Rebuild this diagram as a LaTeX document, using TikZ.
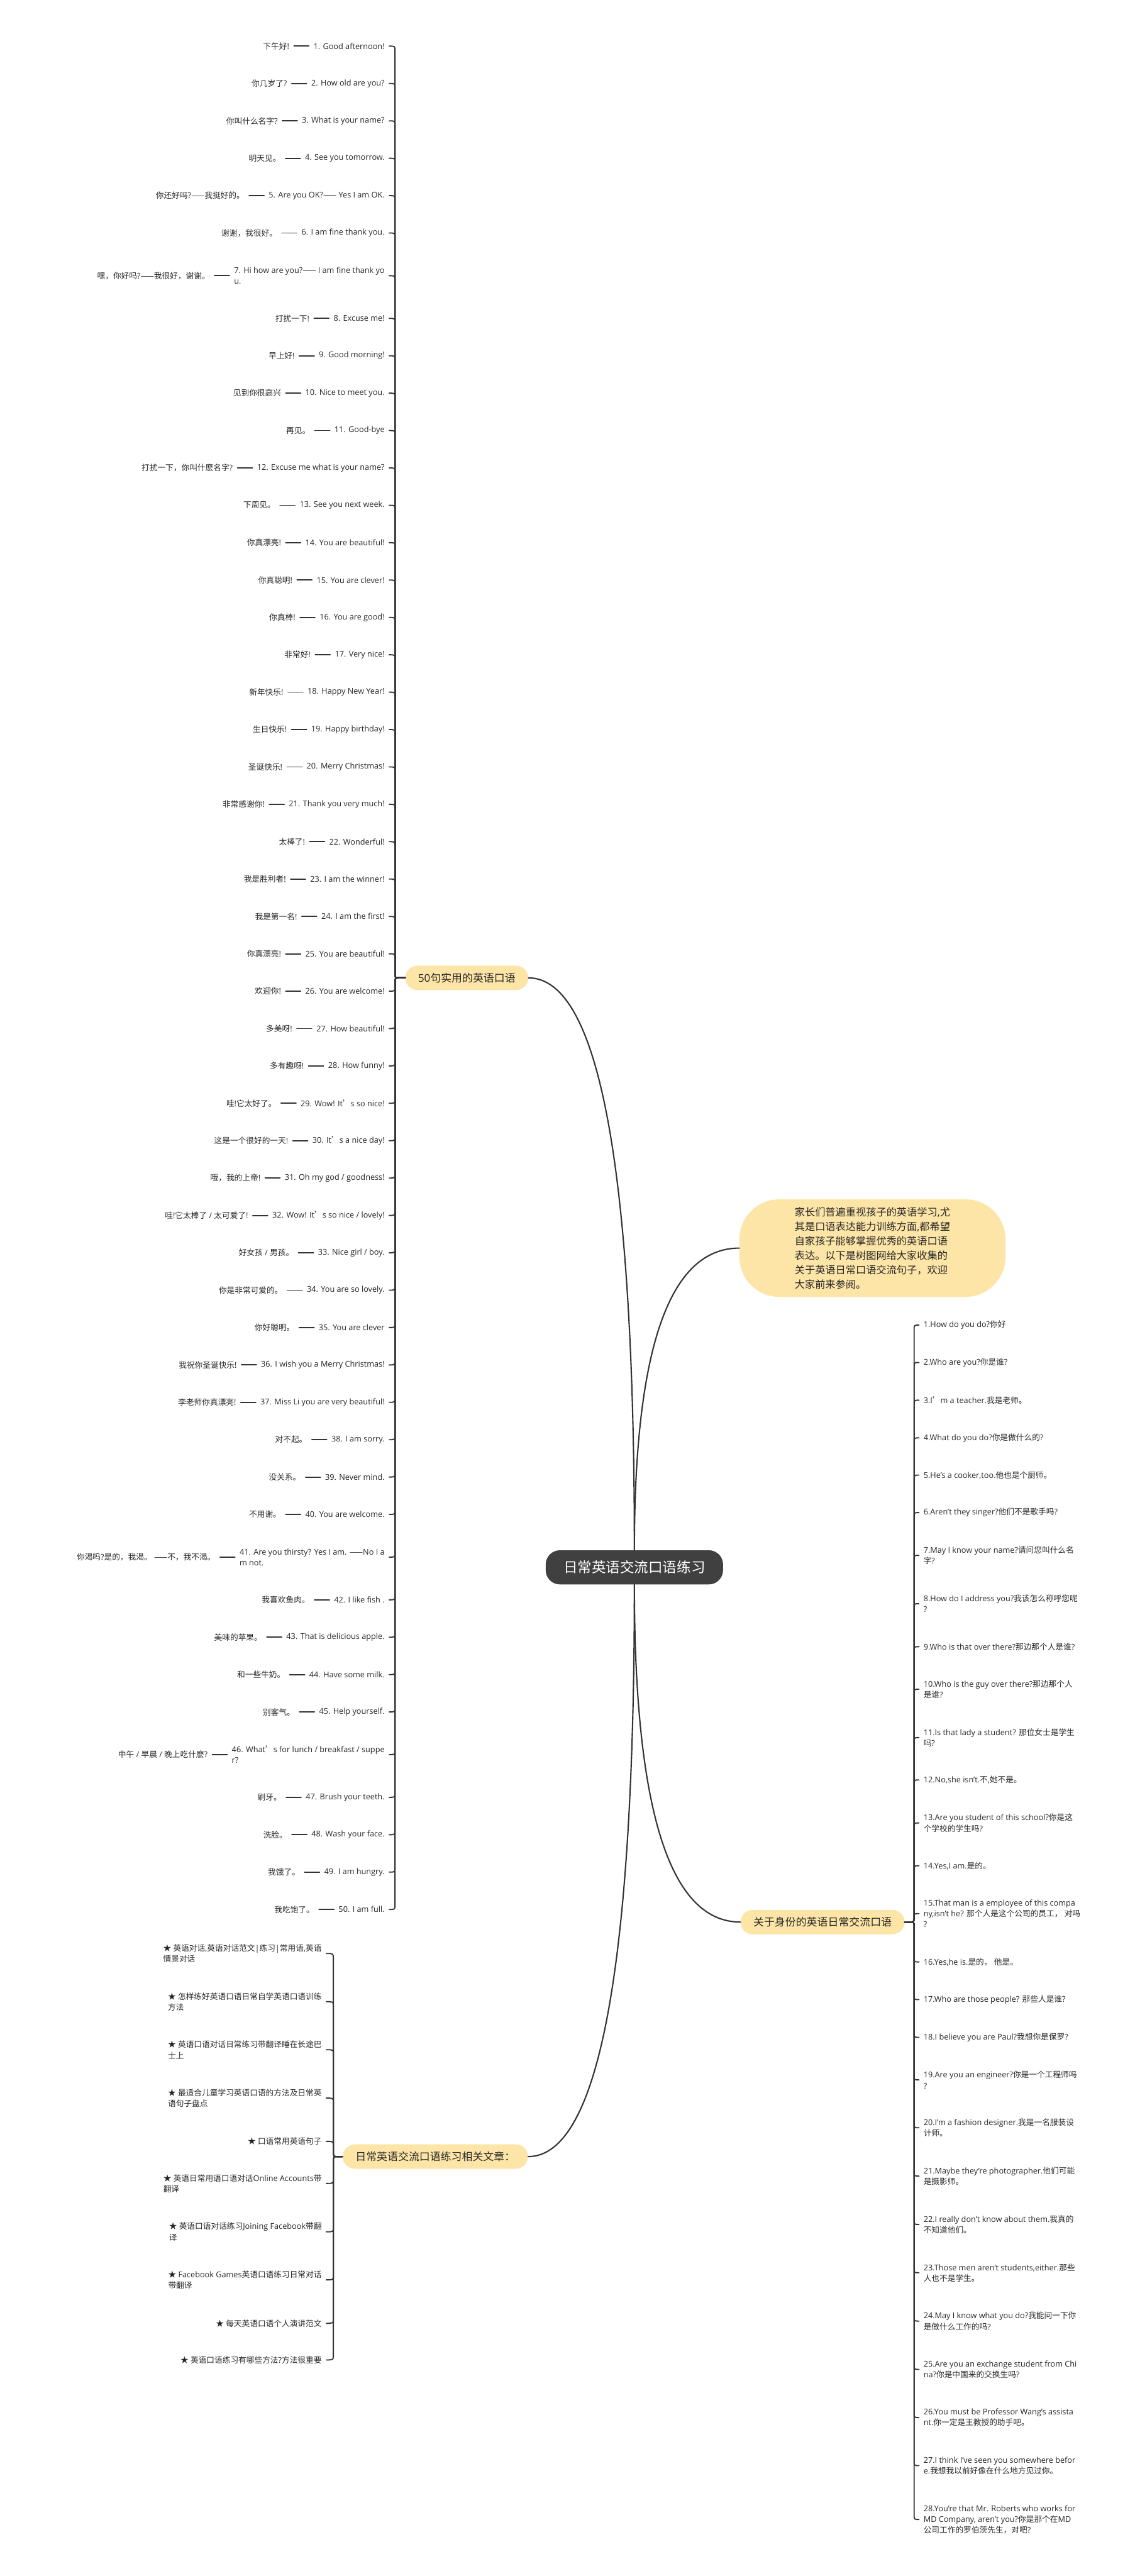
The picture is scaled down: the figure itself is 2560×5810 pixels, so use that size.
\documentclass[tikz,border=0pt]{standalone}
\usepackage{fontspec}
\setmainfont{Open Sans}
\newfontfamily\latfont{Open Sans}
\newfontfamily\cjkfont{Noto Sans CJK SC}
\usetikzlibrary{calc,positioning}

\XeTeXinterchartokenstate=1
\chardef\CJKcls=10
\newcount\mycnt
\def\setcjkrange#1#2{\mycnt=#1\relax
  \loop\XeTeXcharclass\mycnt=\CJKcls\relax
  \ifnum\mycnt<#2\relax\advance\mycnt by 1\relax\repeat}
\setcjkrange{"2E80}{"9FFF}
\setcjkrange{"F900}{"FAFF}
\setcjkrange{"FE30}{"FE4F}
\setcjkrange{"FF00}{"FFEF}
\XeTeXcharclass"2014=\CJKcls
\XeTeXcharclass"2019=\CJKcls
\XeTeXcharclass"2605=\CJKcls
\XeTeXinterchartoks 0 10 = {\cjkfont}
\XeTeXinterchartoks 1 10 = {\cjkfont}
\XeTeXinterchartoks 2 10 = {\cjkfont}
\XeTeXinterchartoks 3 10 = {\cjkfont}
\XeTeXinterchartoks 4095 10 = {\cjkfont}
\XeTeXinterchartoks 10 0 = {\latfont}
\XeTeXinterchartoks 10 1 = {\latfont}
\XeTeXinterchartoks 10 2 = {\latfont}
\XeTeXinterchartoks 10 3 = {\latfont}
\XeTeXinterchartoks 10 4095 = {\latfont}

\definecolor{linec}{HTML}{333333}
\definecolor{textc}{HTML}{262626}
\definecolor{rootc}{HTML}{404040}
\definecolor{pillc}{HTML}{FDE5A7}

\tikzset{
  conn/.style={draw=linec, line width=1.3pt, line cap=round},
  rootnode/.style={fill=rootc, text=white, rounded corners=16pt, inner xsep=20pt,
    minimum height=38.5pt, font=\fontsize{16}{20}\selectfont},
  pill/.style={fill=pillc, text=textc, rounded corners=13.75pt, inner xsep=14.5pt,
    minimum height=27.5pt, font=\fontsize{12}{15}\selectfont},
  introbox/.style={fill=pillc, text=textc, rounded corners=45pt, minimum width=300pt,
    minimum height=110pt, align=left, font=\fontsize{11.5}{16.25}\selectfont},
  itemtext/.style={text=textc, inner xsep=5pt, inner ysep=2pt, align=left,
    font=\fontsize{9}{12.25}\selectfont},
}

\newcommand\treeconn[3]{%
  \draw[conn] let \p1=(#1), \p2=(#2),
    \n1={(\y2>\y1)?1:-1},
    \n2={min(5.5,abs(\y2-\y1)/2.01)},
    \n3={(\x1>\x2)?1:-1} in
  (\p1) -- ({\x2+(#3)+\n3*\n2*1pt},\y1)
  .. controls ({\x2+(#3)},\y1) .. ({\x2+(#3)},{\y1+\n1*\n2*1pt})
  -- ({\x2+(#3)},{\y2-\n1*\n2*1pt})
  .. controls ({\x2+(#3)},\y2) .. (\p2);}

\newcommand\rootconn[2]{%
  \draw[conn, line width=1.5pt] let \p1=(#1), \p2=(#2) in
  (\p1) .. controls (\x1,{\y1+0.667*(\y2-\y1)}) and ({\x2+0.667*(\x1-\x2)},\y2) .. (\p2);}

% left item: index, y, english, chinese
\newcommand\litem[4]{%
  \node[itemtext, anchor=east] (e#1) at (878,#2) {#3};
  \node[itemtext, left=17pt of e#1] (c#1) {#4};
  \draw[conn] (e#1.west) -- (c#1.east);
  \treeconn{b1.west}{e#1.east}{6.5pt}}
% right item
\newcommand\ritem[3]{%
  \node[itemtext, anchor=west] (r#1) at (2073,#2) {#3};
  \treeconn{b3.east}{r#1.west}{-5.5pt}}
% article item
\newcommand\aitem[3]{%
  \node[itemtext, anchor=east] (a#1) at (736,#2) {#3};
  \treeconn{b4.west}{a#1.east}{8pt}}

\begin{document}
\begin{tikzpicture}[x=0.5pt,y=-0.5pt]
\useasboundingbox[fill=white] (0,0) rectangle (2560,5810);

\node[rootnode] (root) at (1431,3535) {日常英语交流口语练习};
\node[pill] (b1) at (1053,2205.5) {50句实用的英语口语};
\node[introbox] (intro) at (1968,2815) {家长们普遍重视孩子的英语学习,尤\\其是口语表达能力训练方面,都希望\\自家孩子能够掌握优秀的英语口语\\表达。以下是树图网给大家收集的\\关于英语日常口语交流句子，欢迎\\大家前来参阅。};
\node[pill] (b3) at (1855.5,4335) {关于身份的英语日常交流口语};
\node[pill] (b4) at (982,4864) {日常英语交流口语练习相关文章：};

\rootconn{root.north}{b1.east}
\rootconn{root.north}{intro.west}
\rootconn{root.south}{b3.west}
\rootconn{root.south}{b4.east}

\litem{1}{104}{1. Good afternoon!}{下午好!}
\litem{2}{188.3}{2. How old are you?}{你几岁了?}
\litem{3}{272.6}{3. What is your name?}{你叫什么名字?}
\litem{4}{356.9}{4. See you tomorrow.}{明天见。}
\litem{5}{441.2}{5. Are you OK?—— Yes I am OK.}{你还好吗?——我挺好的。}
\litem{6}{525.5}{6. I am fine thank you.}{谢谢，我很好。}
\litem{7}{621.8}{7. Hi how are you?—— I am fine thank yo\\u.}{嘿，你好吗?——我很好，谢谢。}
\litem{8}{718.1}{8. Excuse me!}{打扰一下!}
\litem{9}{802.4}{9. Good morning!}{早上好!}
\litem{10}{886.7}{10. Nice to meet you.}{见到你很高兴}
\litem{11}{971}{11. Good-bye}{再见。}
\litem{12}{1055.3}{12. Excuse me what is your name?}{打扰一下，你叫什麽名字?}
\litem{13}{1139.6}{13. See you next week.}{下周见。}
\litem{14}{1223.9}{14. You are beautiful!}{你真漂亮!}
\litem{15}{1308.2}{15. You are clever!}{你真聪明!}
\litem{16}{1392.5}{16. You are good!}{你真棒!}
\litem{17}{1476.8}{17. Very nice!}{非常好!}
\litem{18}{1561.1}{18. Happy New Year!}{新年快乐!}
\litem{19}{1645.4}{19. Happy birthday!}{生日快乐!}
\litem{20}{1729.7}{20. Merry Christmas!}{圣诞快乐!}
\litem{21}{1814}{21. Thank you very much!}{非常感谢你!}
\litem{22}{1898.3}{22. Wonderful!}{太棒了!}
\litem{23}{1982.6}{23. I am the winner!}{我是胜利者!}
\litem{24}{2066.9}{24. I am the first!}{我是第一名!}
\litem{25}{2151.2}{25. You are beautiful!}{你真漂亮!}
\litem{26}{2235.5}{26. You are welcome!}{欢迎你!}
\litem{27}{2319.8}{27. How beautiful!}{多美呀!}
\litem{28}{2404.1}{28. How funny!}{多有趣呀!}
\litem{29}{2488.4}{29. Wow! It’s so nice!}{哇!它太好了。}
\litem{30}{2572.7}{30. It’s a nice day!}{这是一个很好的一天!}
\litem{31}{2657}{31. Oh my god / goodness!}{哦，我的上帝!}
\litem{32}{2741.3}{32. Wow! It’s so nice / lovely!}{哇!它太棒了 / 太可爱了!}
\litem{33}{2825.6}{33. Nice girl / boy.}{好女孩 / 男孩。}
\litem{34}{2909.9}{34. You are so lovely.}{你是非常可爱的。}
\litem{35}{2994.2}{35. You are clever}{你好聪明。}
\litem{36}{3078.5}{36. I wish you a Merry Christmas!}{我祝你圣诞快乐!}
\litem{37}{3162.8}{37. Miss Li you are very beautiful!}{李老师你真漂亮!}
\litem{38}{3247.1}{38. I am sorry.}{对不起。}
\litem{39}{3331.4}{39. Never mind.}{没关系。}
\litem{40}{3415.7}{40. You are welcome.}{不用谢。}
\litem{41}{3512}{41. Are you thirsty? Yes I am. ——No I a\\m not.}{你渴吗?是的，我渴。 ——不，我不渴。}
\litem{42}{3608.3}{42. I like fish .}{我喜欢鱼肉。}
\litem{43}{3692.6}{43. That is delicious apple.}{美味的苹果。}
\litem{44}{3776.9}{44. Have some milk.}{和一些牛奶。}
\litem{45}{3861.2}{45. Help yourself.}{别客气。}
\litem{46}{3957.5}{46. What’s for lunch / breakfast / suppe\\r?}{中午 / 早晨 / 晚上吃什麽?}
\litem{47}{4053.8}{47. Brush your teeth.}{刷牙。}
\litem{48}{4138.1}{48. Wash your face.}{洗脸。}
\litem{49}{4222.4}{49. I am hungry.}{我饿了。}
\litem{50}{4306.7}{50. I am full.}{我吃饱了。}

\ritem{1}{2988.5}{1.How do you do?你好}
\ritem{2}{3073}{2.Who are you?你是谁?}
\ritem{3}{3158}{3.I’m a teacher.我是老师。}
\ritem{4}{3243}{4.What do you do?你是做什么的?}
\ritem{5}{3327}{5.He's a cooker,too.他也是个厨师。}
\ritem{6}{3411.5}{6.Aren't they singer?他们不是歌手吗?}
\ritem{7}{3508}{7.May I know your name?请问您叫什么名\\字?}
\ritem{8}{3617}{8.How do I address you?我该怎么称呼您呢\\?}
\ritem{9}{3714}{9.Who is that over there?那边那个人是谁?}
\ritem{10}{3810}{10.Who is the guy over there?那边那个人\\是谁?}
\ritem{11}{3919}{11.Is that lady a student? 那位女士是学生\\吗?}
\ritem{12}{4014.5}{12.No,she isn't.不,她不是。}
\ritem{13}{4111.5}{13.Are you student of this school?你是这\\个学校的学生吗?}
\ritem{14}{4208}{14.Yes,I am.是的。}
\ritem{15}{4316}{15.That man is a employee of this compa\\ny,isn't he? 那个人是这个公司的员工， 对吗\\?}
\ritem{16}{4425}{16.Yes,he is.是的， 他是。}
\ritem{17}{4510}{17.Who are those people? 那些人是谁?}
\ritem{18}{4595}{18.I believe you are Paul?我想你是保罗?}
\ritem{19}{4691}{19.Are you an engineer?你是一个工程师吗\\?}
\ritem{20}{4799}{20.I'm a fashion designer.我是一名服装设\\计师。}
\ritem{21}{4908}{21.Maybe they're photographer.他们可能\\是摄影师。}
\ritem{22}{5017}{22.I really don't know about them.我真的\\不知道他们。}
\ritem{23}{5126}{23.Those men aren't students,either.那些\\人也不是学生。}
\ritem{24}{5235}{24.May I know what you do?我能问一下你\\是做什么工作的吗?}
\ritem{25}{5344}{25.Are you an exchange student from Chi\\na?你是中国来的交换生吗?}
\ritem{26}{5452.5}{26.You must be Professor Wang's assista\\nt.你一定是王教授的助手吧。}
\ritem{27}{5561}{27.I think I've seen you somewhere befor\\e.我想我以前好像在什么地方见过你。}
\ritem{28}{5682.5}{28.You're that Mr. Roberts who works for\\MD Company, aren't you?你是那个在MD\\公司工作的罗伯茨先生，对吧?}

\aitem{1}{4406}{★ 英语对话,英语对话范文|练习|常用语,英语\\情景对话}
\aitem{2}{4514.6}{★ 怎样练好英语口语日常自学英语口语训练\\方法}
\aitem{3}{4623}{★ 英语口语对话日常练习带翻译睡在长途巴\\士上}
\aitem{4}{4732}{★ 最适合儿童学习英语口语的方法及日常英\\语句子盘点}
\aitem{5}{4829.6}{★ 口语常用英语句子}
\aitem{6}{4924.6}{★ 英语日常用语口语对话Online Accounts带\\翻译}
\aitem{7}{5033.7}{★ 英语口语对话练习Joining Facebook带翻\\译}
\aitem{8}{5142}{★ Facebook Games英语口语练习日常对话\\带翻译}
\aitem{9}{5240}{★ 每天英语口语个人演讲范文}
\aitem{10}{5322.6}{★ 英语口语练习有哪些方法?方法很重要}
\end{tikzpicture}
\end{document}
